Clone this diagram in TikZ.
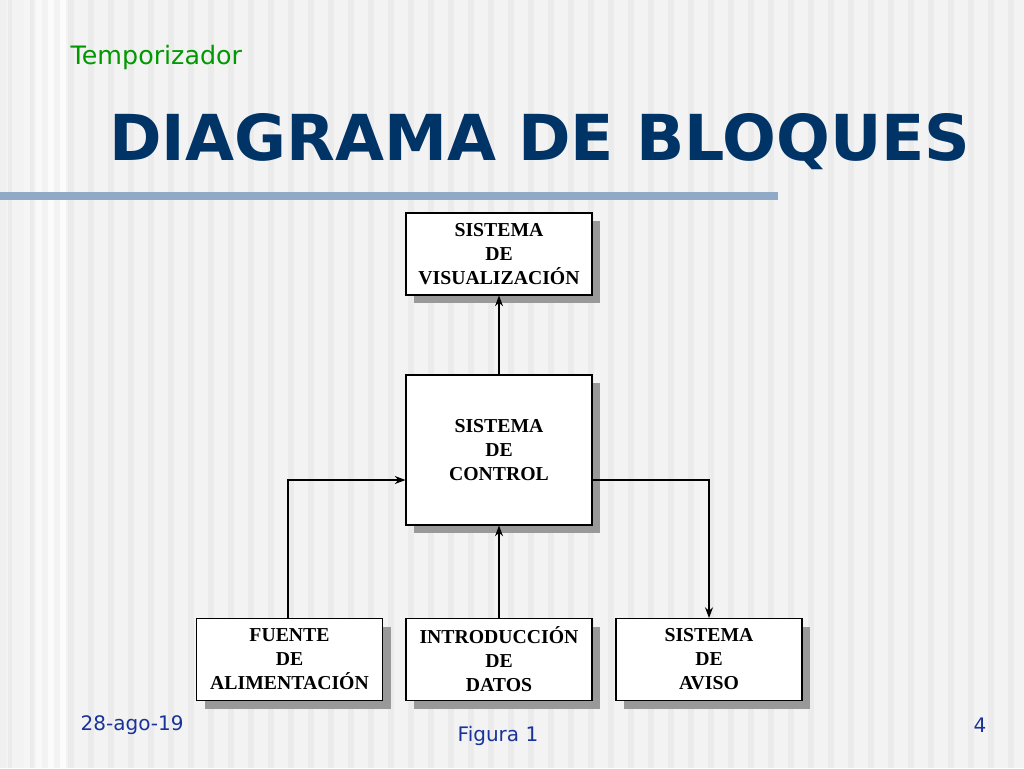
\documentclass[tikz,border=0pt]{standalone}
\usepackage{fontspec}
\setmainfont{Liberation Serif}
\newfontfamily\vfont{DejaVu Sans}
\usetikzlibrary{shadows,arrows.meta}
\definecolor{bg}{HTML}{F3F3F3}
\definecolor{stripe}{HTML}{EBEBEB}
\definecolor{titleblue}{HTML}{003366}
\definecolor{linecol}{HTML}{8FA9C6}
\definecolor{green1}{HTML}{009900}
\definecolor{foot}{HTML}{1A3399}
\tikzset{
 blk/.style={draw=black,fill=white,line width=0.8pt,align=center,font=\bfseries\fontsize{14.8}{18}\selectfont,
   drop shadow={shadow xshift=6pt,shadow yshift=-6pt,fill=gray!80,opacity=1}},
 conn/.style={line width=0.8pt,-{Stealth[length=8pt,width=6pt]}}
}
\begin{document}
\begin{tikzpicture}[x=0.75pt,y=-0.75pt]
\useasboundingbox (0,0) rectangle (1024,768);
\fill[bg] (0,0) rectangle (1024,768);
\foreach \i in {0,...,50} {\fill[stripe] (\i*20+8,0) rectangle (\i*20+14,768);}
\foreach \i/\g in {0/70,1/76,2/82,3/88,4/92,5/95} {\fill[white!\g!gray!40] (\i*12,0) rectangle (\i*12+6,768);}
\fill[linecol] (0,192) rectangle (778,200);
\node[anchor=west,text=green1,font=\vfont\fontsize{19}{21}\selectfont] (t) at (66,58) {Temporizador};
\node[text=titleblue,font=\vfont\bfseries\fontsize{47.5}{54}\selectfont] (h) at (540,142) {DIAGRAMA DE BLOQUES};
\node[blk,minimum width=139.5pt,minimum height=61.5pt] (vis) at (499,254) {SISTEMA\\DE\\VISUALIZACIÓN};
\node[blk,minimum width=139.5pt,minimum height=112.5pt] (ctl) at (499,450) {SISTEMA\\DE\\CONTROL};
\node[blk,minimum width=139.5pt,minimum height=61.5pt] (fue) at (289.5,659.5) {FUENTE\\DE\\ALIMENTACIÓN};
\node[blk,minimum width=139.5pt,minimum height=61.5pt] (int) at (499,659.5) {INTRODUCCIÓN\\DE\\DATOS};
\node[blk,minimum width=139.5pt,minimum height=61.5pt] (avi) at (709,659.5) {SISTEMA\\DE\\AVISO};
\draw[conn] (ctl.north) -- (vis.south);
\draw[conn] (int.north) -- (ctl.south);
\draw[conn] (fue.north -| 288,0) |- (ctl.west |- 0,480);
\draw[conn] (ctl.east |- 0,480) -| (avi.north);
\node[anchor=west,text=foot,font=\vfont\fontsize{15}{17}\selectfont] (d) at (76,725) {28-ago-19};
\node[text=foot,font=\vfont\fontsize{15}{17}\selectfont] (f) at (498,736) {Figura 1};
\node[text=foot,font=\vfont\fontsize{15}{17}\selectfont] (n) at (980,725) {4};
\end{tikzpicture}
\end{document}
